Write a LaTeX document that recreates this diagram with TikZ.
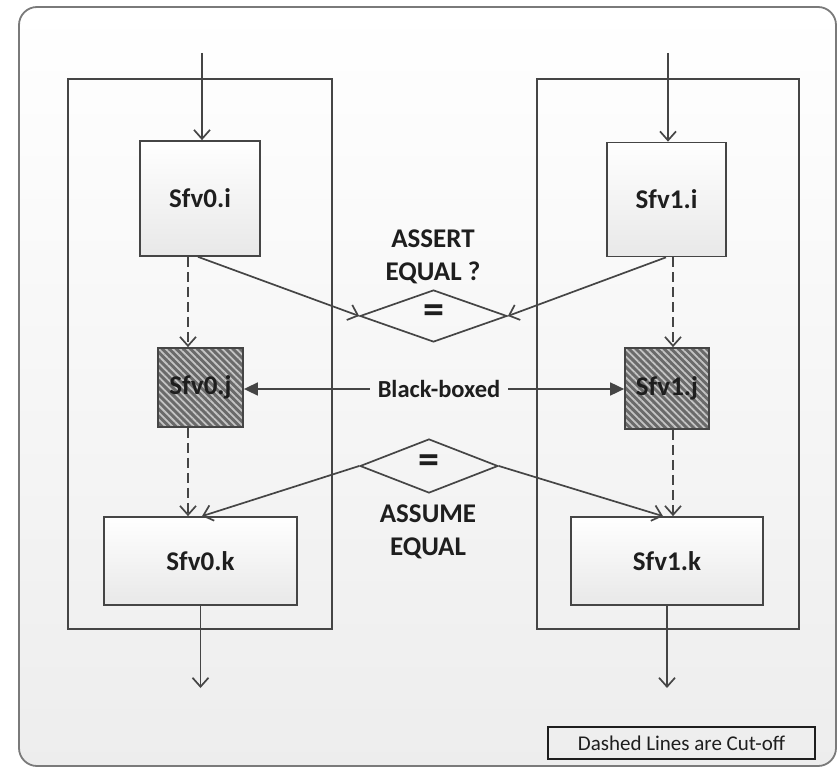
\documentclass[tikz,border=0pt]{standalone}
\usepackage{fontspec}
\setmainfont{Carlito}
\usetikzlibrary{shapes.geometric,arrows.meta,patterns.meta}
\definecolor{linegray}{HTML}{454545}
\definecolor{framegray}{HTML}{7A7A7A}
\definecolor{hatchfill}{HTML}{6A6A6A}
\definecolor{hatchline}{HTML}{C4C4C4}
\definecolor{txt}{HTML}{1E1E1E}

\begin{document}
\begin{tikzpicture}[x=1pt,y=-1pt,
  >={Straight Barb[length=9pt,width=16pt]},
  ln/.style={draw=linegray,line width=1.7pt},
  cut/.style={ln,dash pattern=on 10pt off 5pt},
  solidtip/.style={-{Triangle[length=14pt,width=13pt]}},
  fn/.style={font=\fontsize{27}{33}\selectfont\bfseries,text=txt},
  lane/.style={ln,inner sep=0},
  unit/.style={ln,top color=white,bottom color=black!9,fn,inner sep=0},
  hatched/.style={ln,fn,inner sep=0,preaction={fill=hatchfill},
    pattern={Lines[angle=-45,distance=5pt,line width=1.8pt]},pattern color=hatchline},
  eqsign/.style={font=\fontsize{42}{42}\selectfont\bfseries,text=txt,inner sep=0},
]
% page frame and background panel
\path[use as bounding box] (0,0) rectangle (838,770);
\draw[draw=framegray,line width=1.8pt,rounded corners=18pt,
      top color=white,bottom color=black!7] (19,7) rectangle (836,766);

% the two lanes
\node[lane,minimum width=264pt,minimum height=550pt] (lane0) at (200,354) {};
\node[lane,minimum width=262pt,minimum height=550pt] (lane1) at (668,354) {};

% stages
\node[unit,minimum width=120pt,minimum height=115pt] (s0i) at (200,198.5) {Sfv0.i};
\node[unit,minimum width=119pt,minimum height=114pt] (s1i) at (666.5,199.5) {Sfv1.i};
\node[hatched,minimum width=85pt,minimum height=79pt] (s0j) at (200.5,387.5) {Sfv0.j};
\node[hatched,minimum width=84pt,minimum height=81pt] (s1j) at (667,388.5) {Sfv1.j};
\node[unit,minimum width=193pt,minimum height=88pt] (s0k) at (200.5,561) {Sfv0.k};
\node[unit,minimum width=192pt,minimum height=88pt] (s1k) at (667,561) {Sfv1.k};

% equality checks
\node[diamond,ln,minimum width=147pt,minimum height=52pt,inner sep=0] (d1) at (433.5,316) {};
\node[eqsign] (eq1) at ([yshift=2pt]d1.center) {=};
\node[diamond,ln,minimum width=138pt,minimum height=54pt,inner sep=0] (d2) at (429,466) {};
\node[eqsign] (eq2) at ([yshift=2pt]d2.center) {=};

\node[fn,align=center] (assert) at (433,257) {ASSERT\\EQUAL ?};
\node[fn,align=center] (assume) at (428,532) {ASSUME\\EQUAL};
\node[font=\fontsize{24.5}{28}\selectfont\bfseries,text=txt,inner xsep=8pt] (bb) at (439,389) {Black-boxed};

% legend
\node[draw=txt,line width=1.6pt,minimum width=267pt,minimum height=32pt,
      font=\fontsize{21}{25}\selectfont,text=txt] (key) at (681.5,743) {Dashed Lines are Cut-off};

% inputs and outputs
\coordinate (in0) at (202,53);
\coordinate (in1) at (668,53);
\coordinate (out0) at (200.5,688);
\coordinate (out1) at (667,688);
\draw[ln,->] (in0) -- (in0 |- s0i.north);
\draw[ln,->] (in1) -- (in1 |- s1i.north);
\draw[ln,->] (s0k.south) -- (out0);
\draw[ln,->] (s1k.south) -- (out1);

% cut-off paths
\draw[cut,->] ([xshift=-12pt]s0i.south) -- ([xshift=-12.5pt]s0j.north);
\draw[cut,->] ([xshift=-12.5pt]s0j.south) -- ([xshift=-12.5pt]s0k.north);
\draw[cut,->] ([xshift=6.5pt]s1i.south) -- ([xshift=6pt]s1j.north);
\draw[cut,->] ([xshift=6pt]s1j.south) -- ([xshift=6pt]s1k.north);

% comparison paths
\draw[ln,->] ([xshift=-2pt]s0i.south) -- (d1.west);
\draw[ln,->] ([xshift=-0.5pt]s1i.south) -- (d1.east);
\draw[ln,->] (d2.west) -- ([xshift=1.5pt]s0k.north);
\draw[ln,->] (d2.east) -- ([xshift=-4pt]s1k.north);

% black-boxed links
\draw[ln,solidtip] (bb.west) -- (bb.west -| s0j.east);
\draw[ln,solidtip] (bb.east) -- (bb.east -| s1j.west);
\end{tikzpicture}
\end{document}
